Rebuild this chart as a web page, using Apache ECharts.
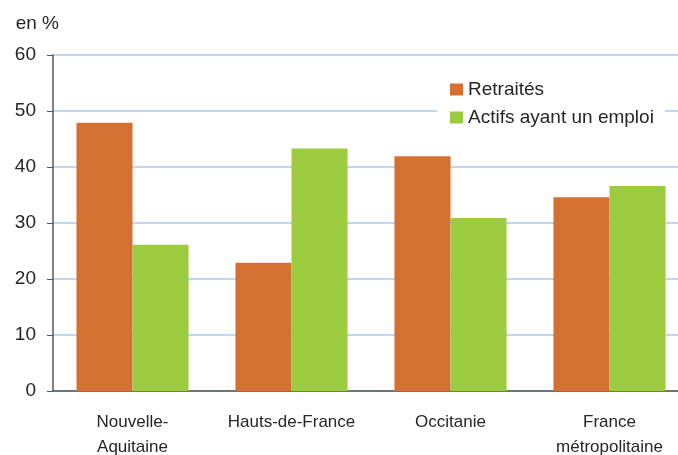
<!DOCTYPE html>
<html>
<head>
<meta charset="utf-8">
<script src="https://cdn.jsdelivr.net/npm/echarts@6/dist/echarts.min.js"></script>
<style>
    html, body {margin: 0; padding: 0; background: #fff;}
    #J_chart {width: 678px; height: 455px;}
</style>
</head>
<body>
<div id="J_chart"></div>
<script>
const categories = ['Nouvelle-\nAquitaine', 'Hauts-de-France', 'Occitanie', 'France\nmétropolitaine'];
const retraites = [47.9, 22.9, 41.9, 34.6];
const actifs = [26.1, 43.3, 30.9, 36.6];
const yTicks = [0, 10, 20, 30, 40, 50, 60];

const FONT = '"Liberation Sans", Arial, sans-serif';
const TEXT = '#262626';

function initBar() {
    let options = {
        animation: false,
        textStyle: {fontFamily: FONT},
        grid: {
            left: 53,
            top: 55,
            width: 636,
            height: 336,
            outerBoundsMode: 'none',
            containLabel: false
        },
        legend: {
            orient: 'vertical',
            left: 437,
            top: 72,
            icon: 'rect',
            itemWidth: 13,
            itemHeight: 12,
            itemGap: 9,
            padding: [8, 11, 8, 13],
            backgroundColor: '#fff',
            textStyle: {
                fontSize: 19,
                color: TEXT,
                fontFamily: FONT
            },
            data: ['Retraités', 'Actifs ayant un emploi']
        },
        xAxis: {
            type: 'category',
            data: categories,
            axisLine: {
                show: true,
                lineStyle: {color: '#555', width: 1.5}
            },
            axisTick: {show: false},
            axisLabel: {
                fontSize: 17,
                color: TEXT,
                margin: 19,
                lineHeight: 25,
                interval: 0
            }
        },
        yAxis: {
            type: 'value',
            min: yTicks[0],
            max: yTicks[yTicks.length - 1],
            interval: 10,
            name: 'en %',
            nameLocation: 'end',
            nameGap: 22,
            nameTextStyle: {
                fontSize: 19,
                color: TEXT,
                align: 'right',
                padding: [0, -6, 0, 0]
            },
            axisLine: {
                show: true,
                lineStyle: {color: '#555', width: 1.5}
            },
            axisTick: {
                show: true,
                length: 6,
                lineStyle: {color: '#555'}
            },
            axisLabel: {
                fontSize: 19,
                color: TEXT,
                margin: 17
            },
            splitLine: {
                lineStyle: {color: '#A9C8EE', width: 1.5}
            }
        },
        series: [{
            name: 'Retraités',
            type: 'bar',
            barGap: '0%',
            barCategoryGap: '29.5%',
            itemStyle: {color: '#D37032'},
            data: retraites
        }, {
            name: 'Actifs ayant un emploi',
            type: 'bar',
            itemStyle: {color: '#9DCB3F'},
            data: actifs
        }]
    };
    let chart = echarts.init(document.getElementById('J_chart'));
    chart.setOption(options);
}

initBar();
</script>
</body>
</html>
